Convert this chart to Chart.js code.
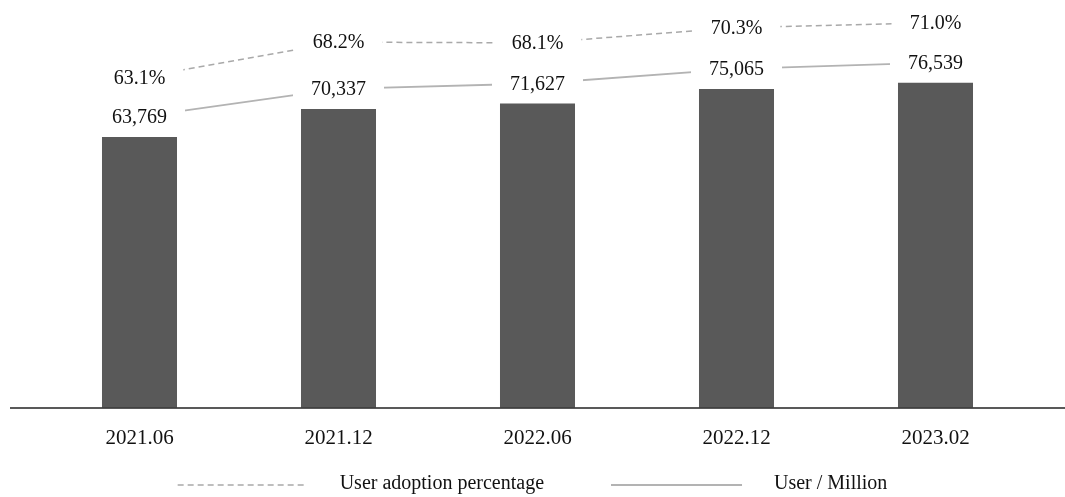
<!DOCTYPE html>
<html>
<head>
<meta charset="utf-8">
<script src="https://cdn.jsdelivr.net/npm/chart.js@4"></script>
<style>
  html, body { margin: 0; padding: 0; background: #fff; }
  #wrap { width: 1065px; height: 497px; position: relative; }
</style>
</head>
<body>
<div id="wrap"><canvas id="c" width="1065" height="497"></canvas></div>
<script>
const categories = ['2021.06', '2021.12', '2022.06', '2022.12', '2023.02'];
const userMillion = [63769, 70337, 71627, 75065, 76539];
const adoptionPct = [63.1, 68.2, 68.1, 70.3, 71.0];
const userLabels = ['63,769', '70,337', '71,627', '75,065', '76,539'];
const pctLabels = ['63.1%', '68.2%', '68.1%', '70.3%', '71.0%'];

const SERIF = '"Liberation Serif", "Times New Roman", "DejaVu Serif", serif';

const labelPlugin = {
  id: 'labelPlugin',
  afterDatasetsDraw(chart) {
    const ctx = chart.ctx;
    ctx.save();
    ctx.font = '20px ' + SERIF;
    ctx.textAlign = 'center';
    ctx.textBaseline = 'middle';
    chart.data.datasets.forEach((ds, di) => {
      if (!ds.valueLabels) return;
      const meta = chart.getDatasetMeta(di);
      meta.data.forEach((pt, i) => {
        const txt = ds.valueLabels[i];
        const w = ctx.measureText(txt).width + 36;
        ctx.fillStyle = '#ffffff';
        ctx.fillRect(pt.x - w / 2, pt.y - 12, w, 24);
        ctx.fillStyle = '#111111';
        ctx.fillText(txt, pt.x, pt.y + 1);
      });
    });
    ctx.restore();
  },
  afterDraw(chart) {
    const ctx = chart.ctx;
    const area = chart.chartArea;
    ctx.save();
    // axis baseline
    ctx.strokeStyle = '#222222';
    ctx.lineWidth = 1.5;
    ctx.beginPath();
    ctx.moveTo(10, area.bottom + 0.25);
    ctx.lineTo(chart.width, area.bottom + 0.25);
    ctx.stroke();
    // legend
    ctx.font = '20px ' + SERIF;
    ctx.textBaseline = 'middle';
    ctx.textAlign = 'left';
    const items = [chart.data.datasets[1], chart.data.datasets[2]];
    const sampleW = [127, 131];
    const gapText = [35, 32];
    const gapItem = 67;
    const textW = items.map(d => ctx.measureText(d.label).width);
    const total = sampleW[0] + gapText[0] + textW[0] + gapItem + sampleW[1] + gapText[1] + textW[1];
    let x = chart.width / 2 - total / 2;
    const y = 485;
    items.forEach((d, i) => {
      ctx.strokeStyle = d.borderColor;
      ctx.lineWidth = d.borderWidth;
      ctx.setLineDash(d.borderDash || []);
      ctx.beginPath();
      ctx.moveTo(x, y);
      ctx.lineTo(x + sampleW[i], y);
      ctx.stroke();
      ctx.setLineDash([]);
      x += sampleW[i] + gapText[i];
      ctx.fillStyle = '#111111';
      ctx.fillText(d.label, x, y - 1);
      x += textW[i] + gapItem;
    });
    ctx.restore();
  }
};

new Chart(document.getElementById('c'), {
  data: {
    labels: categories,
    datasets: [
      {
        type: 'bar',
        label: 'Users',
        data: userMillion,
        backgroundColor: '#595959',
        borderWidth: 0,
        barPercentage: 0.377,
        categoryPercentage: 1.0,
        yAxisID: 'y',
        order: 3
      },
      {
        type: 'line',
        label: 'User adoption percentage',
        data: adoptionPct,
        valueLabels: pctLabels,
        borderColor: '#a9a9a9',
        borderWidth: 1.5,
        borderDash: [6, 4],
        pointRadius: 0,
        fill: false,
        tension: 0,
        yAxisID: 'yP',
        order: 1
      },
      {
        type: 'line',
        label: 'User / Million',
        data: userMillion,
        valueLabels: userLabels,
        borderColor: '#b3b3b3',
        borderWidth: 1.8,
        pointRadius: 0,
        fill: false,
        tension: 0,
        yAxisID: 'yU',
        order: 2
      }
    ]
  },
  options: {
    responsive: false,
    animation: false,
    layout: { padding: { left: 40, right: 30, top: 0, bottom: 28 } },
    plugins: {
      legend: { display: false },
      tooltip: { enabled: false }
    },
    scales: {
      x: {
        grid: { display: false, drawTicks: false },
        border: { display: false },
        ticks: {
          color: '#111111',
          font: { family: SERIF, size: 21 },
          padding: 18,
          maxRotation: 0
        }
      },
      y: { display: false, min: 0, max: 96000 },
      yU: { display: false, min: -4720, max: 91280 },
      yP: { display: false, min: 15.3, max: 74.3 }
    }
  },
  plugins: [labelPlugin]
});
</script>
</body>
</html>
